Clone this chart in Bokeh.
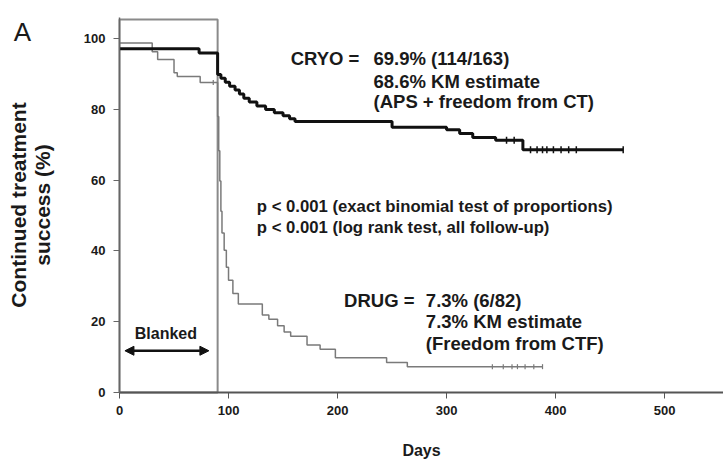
import numpy as np
from bokeh.plotting import figure
from bokeh.models import (Range1d, FixedTicker, Label, Arrow, NormalHead)
from bokeh.embed import file_html
from bokeh.resources import INLINE

# Kaplan-Meier style step data: day of event, % still successful after it
cryo_days = [0, 73, 90, 93, 97, 101, 106, 110, 114, 119, 126, 134, 142, 150,
             156, 161, 250, 300, 312, 324, 345, 370]
cryo_surv = [97.2, 96.0, 89.9, 88.8, 87.7, 86.6, 85.5, 84.4, 83.2, 82.1, 81.0,
             80.0, 79.1, 78.2, 77.4, 76.6, 75.0, 74.3, 73.2, 72.1, 71.3, 68.6]
cryo_last_day = 462
cryo_censored = [355, 362, 377, 383, 388, 392, 398, 405, 412, 419, 462]

drug_days = [0, 30, 35, 50, 53, 74, 90, 91, 92, 93, 94, 96, 98, 100, 104, 109,
             131, 137, 145, 151, 157, 172, 184, 198, 245, 264]
drug_surv = [98.8, 96.3, 94.1, 90.4, 89.3, 87.6, 78.0, 68.3, 59.8, 51.2, 45.1,
             40.2, 35.4, 31.7, 28.0, 25.0, 21.9, 20.7, 18.9, 17.1, 15.9, 13.4,
             12.2, 9.8, 8.5, 7.3]
drug_last_day = 388
drug_censored = [86, 342, 352, 360, 365, 372, 380, 388]

blanking_days = 90
x_ticks = [0, 100, 200, 300, 400, 500]
y_ticks = [0, 20, 40, 60, 80, 100]

FONT = "Liberation Sans"
TXT = "#1a1a1a"

# The frame fills the whole canvas; both axes sit at fixed data locations
# (x = 0 and y = 0) so the panel letter can live inside the frame too.
X_MAX, Y_MAX = 554, 106
px_per_day = (723 - 119) / X_MAX
px_per_pct = (392 - 17) / Y_MAX
x_lo = -119 / px_per_day
y_lo = -(463 - 392) / px_per_pct
y_hi = Y_MAX + 17 / px_per_pct

p = figure(width=723, height=463, output_backend="svg", toolbar_location=None,
           x_range=Range1d(x_lo, X_MAX), y_range=Range1d(y_lo, y_hi),
           min_border=0)
p.outline_line_color = None
p.xgrid.visible = False
p.ygrid.visible = False
p.background_fill_color = "white"
p.border_fill_color = "white"

# axes
for ax in (p.xaxis[0], p.yaxis[0]):
    ax.fixed_location = 0
    ax.minor_tick_line_color = None
    ax.major_tick_in = 0
    ax.major_tick_out = 6
    ax.major_label_text_font = FONT
    ax.major_label_text_font_style = "bold"
    ax.major_label_text_font_size = "13px"
    ax.major_label_text_color = TXT
    ax.axis_label_text_font = FONT
    ax.axis_label_text_font_style = "bold"
    ax.axis_label_text_color = TXT

p.xaxis.bounds = (0, X_MAX)
p.yaxis.bounds = (0, Y_MAX)
p.xaxis.ticker = FixedTicker(ticks=x_ticks)
p.yaxis.ticker = FixedTicker(ticks=y_ticks)
p.xaxis.axis_line_color = "#555555"
p.xaxis.axis_line_width = 2
p.xaxis.major_tick_line_color = "#555555"
p.xaxis.major_label_standoff = 7
p.xaxis.axis_label = "Days"
p.xaxis.axis_label_text_font_size = "16px"
p.xaxis.axis_label_standoff = 24
p.yaxis.axis_line_color = "#666666"
p.yaxis.axis_line_width = 1.5
p.yaxis.major_tick_line_color = "#666666"
p.yaxis.major_label_standoff = 8
p.yaxis.axis_label = "Continued treatment\nsuccess (%)"
p.yaxis.axis_label_text_font_size = "21px"
p.yaxis.axis_label_text_line_height = 1.04
p.yaxis.axis_label_standoff = 27

# blanking window box
p.quad(left=0, right=blanking_days, bottom=0, top=105.4, fill_color=None,
       line_color="#8a8a8a", line_width=2)

# survival curves
p.step(drug_days + [drug_last_day], drug_surv + [drug_surv[-1]], mode="after",
       line_color="#7a7a7a", line_width=1.5)
p.step(cryo_days + [cryo_last_day], cryo_surv + [cryo_surv[-1]], mode="after",
       line_color="#111111", line_width=3)


def value_at(days, surv, d):
    idx = np.searchsorted(days, d, side="right") - 1
    return surv[idx]


p.scatter(drug_censored, [value_at(drug_days, drug_surv, d) for d in drug_censored],
          marker="dash", angle=np.pi / 2, size=5, line_color="#7a7a7a", line_width=1.2)
p.scatter(cryo_censored, [value_at(cryo_days, cryo_surv, d) for d in cryo_censored],
          marker="dash", angle=np.pi / 2, size=7, line_color="#111111", line_width=1.5)

# blanked period arrow
p.add_layout(Arrow(x_start=5, y_start=11.8, x_end=blanking_days - 8, y_end=11.8,
                   line_color="#111111", line_width=2.5,
                   start=NormalHead(size=9, fill_color="#111111", line_color="#111111"),
                   end=NormalHead(size=9, fill_color="#111111", line_color="#111111")))


def add_text(x, y, s, size="18.5px", style="bold"):
    p.add_layout(Label(x=x, y=y, text=s, text_font=FONT, text_font_size=size,
                       text_font_style=style, text_color=TXT,
                       text_baseline="middle", text_align="left"))


add_text(14, 16.6, "Blanked", size="16px")

add_text(157, 94.3, "CRYO =")
add_text(233, 94.3, "69.9% (114/163)")
add_text(233, 88.0, "68.6% KM estimate")
add_text(233, 82.3, "(APS + freedom from CT)")

add_text(126, 52.7, "p < 0.001 (exact binomial test of proportions)", size="16.7px")
add_text(126, 46.5, "p < 0.001 (log rank test, all follow-up)", size="16.7px")

add_text(206, 25.9, "DRUG =")
add_text(281, 25.9, "7.3% (6/82)")
add_text(281, 20.0, "7.3% KM estimate")
add_text(281, 13.8, "(Freedom from CTF)")

# panel letter
add_text(-97, 102.0, "A", size="26px", style="normal")

open("out.html", "w").write(file_html(p, INLINE))
